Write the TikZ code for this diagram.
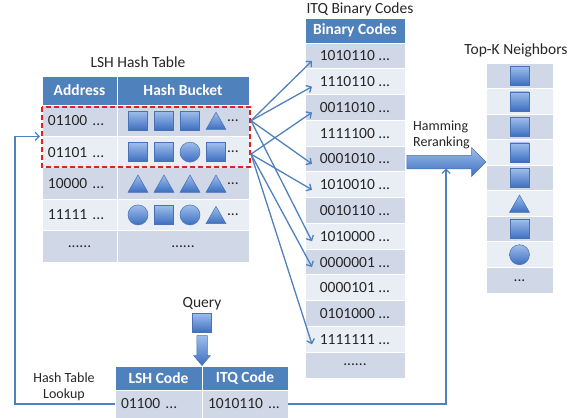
\documentclass[tikz,border=0pt]{standalone}
\usepackage{fontspec}
\setmainfont{Carlito}
\usetikzlibrary{positioning, shapes.geometric, shapes.arrows, arrows.meta}

\definecolor{hdrblue}{RGB}{79,129,189}
\definecolor{rowA}{RGB}{208,216,232}
\definecolor{rowB}{RGB}{233,237,244}
\definecolor{shpTop}{RGB}{158,190,235}
\definecolor{shpBot}{RGB}{60,110,192}
\definecolor{shpLine}{RGB}{72,112,178}
\definecolor{linkblue}{RGB}{79,129,189}
\definecolor{hitred}{RGB}{230,30,30}

\newcommand{\trail}{...}

\tikzset{
  cell/.style={rectangle, draw=white, line width=1pt, inner sep=0pt, outer sep=0pt,
    font=\fontsize{15.5}{17}\selectfont, text=black!85},
  hdr/.style={cell, fill=hdrblue, text=white, font=\fontsize{15.5}{17}\selectfont\bfseries},
  shp/.style={draw=shpLine, line width=0.5pt, top color=shpTop, bottom color=shpBot,
    inner sep=0pt, outer sep=0pt},
  sq/.style={shp, rectangle, minimum size=19pt},
  circ/.style={shp, circle, minimum size=20pt},
  tri/.style={shp, regular polygon, regular polygon sides=3, minimum size=23pt, yshift=-3pt},
  blockarrow/.style={shp, single arrow},
  title/.style={font=\fontsize{15.5}{17}\selectfont, text=black!85},
  note/.style={font=\fontsize{14}{16}\selectfont, text=black!85, inner sep=0pt},
  link/.style={draw=linkblue, line width=1.3pt, -{Straight Barb[length=4pt,width=8pt]}},
  hitbox/.style={draw=hitred, line width=2pt, dash pattern=on 5pt off 3pt}
}

\begin{document}
\begin{tikzpicture}[x=1pt, y=-1pt]
		
		\useasboundingbox (0,0) rectangle (582,418);
		
		% LSH hash table
		\node[title] (lshT) at (138,62) {LSH Hash Table};
		\node[hdr, minimum width=75pt, minimum height=29pt, anchor=north west] (addr0) at (42,76) {Address};
		\node[hdr, minimum width=132pt, minimum height=29pt, right=0pt of addr0] (buck0) {Hash Bucket};
		\foreach \code/\clr [count=\i, evaluate=\i as \j using int(\i-1)] in {01100/rowA, 01101/rowB, 10000/rowA, 11111/rowB} {
			\node[cell, fill=\clr, minimum height=31.4pt, inner xsep=6pt, text width=63pt, align=left, below=0pt of addr\j] (addr\i) {\code\ \trail};
			\node[cell, fill=\clr, minimum width=132pt, minimum height=31.4pt, right=0pt of addr\i] (buck\i) {};
		}
		\node[cell, fill=rowA, minimum width=75pt, minimum height=31.4pt, below=0pt of addr4] (addr5) {\trail\trail};
		\node[cell, fill=rowA, minimum width=132pt, minimum height=31.4pt, right=0pt of addr5] (buck5) {\trail\trail};
		
		\foreach \r/\shps in {1/{sq,sq,sq,tri}, 2/{sq,sq,circ,sq}, 3/{tri,tri,tri,tri}, 4/{circ,sq,circ,tri}} {
			\foreach \s [count=\k] in \shps
				\node[\s] (sh\r-\k) at ([xshift=26*\k-5]buck\r.west) {};
			\node[cell, draw=none, anchor=west] (dots\r) at ([xshift=110]buck\r.west) {\trail};
		}
		
		% ITQ binary codes
		\node[title] (itqT) at (360,9) {ITQ Binary Codes};
		\node[hdr, minimum width=100pt, minimum height=25pt, anchor=north west] (bin0) at (305,18) {Binary Codes};
		\foreach \code/\clr [count=\i, evaluate=\i as \j using int(\i-1)] in {1010110/rowA, 1110110/rowB, 0011010/rowA, 1111100/rowB, 0001010/rowA, 1010010/rowB, 0010110/rowA, 1010000/rowB, 0000001/rowA, 0000101/rowB, 0101000/rowA, 1111111/rowB}
			\node[cell, fill=\clr, minimum width=100pt, minimum height=25.77pt, below=0pt of bin\j] (bin\i) {\code\ \trail};
		\node[cell, fill=rowA, minimum width=100pt, minimum height=25.77pt, below=0pt of bin12] (bin13) {\trail\trail};
		
		% top-k neighbors
		\node[title] (topT) at (516,50) {Top-K Neighbors};
		\coordinate (top0) at (519.5,63);
		\foreach \s/\clr [count=\i, evaluate=\i as \j using int(\i-1)] in {sq/rowA, sq/rowB, sq/rowA, sq/rowB, sq/rowA, tri/rowB, sq/rowA, circ/rowB} {
			\node[cell, fill=\clr, minimum width=67pt, minimum height=25.56pt, below=0pt of top\j] (top\i) {};
			\node[\s] (topS\i) at (top\i) {};
		}
		\node[cell, fill=rowA, minimum width=67pt, minimum height=25.56pt, below=0pt of top8] (top9) {\trail};
		
		% query
		\node[hdr, minimum width=87pt, minimum height=24pt, anchor=north west] (qlshH) at (115,366) {LSH Code};
		\node[hdr, minimum width=86pt, minimum height=24pt, right=0pt of qlshH] (qitqH) {ITQ Code};
		\node[cell, fill=rowA, minimum height=28pt, inner xsep=6pt, text width=75pt, align=left, below=0pt of qlshH] (qlsh) {01100 \trail};
		\node[cell, fill=rowA, minimum height=28pt, inner xsep=6pt, text width=74pt, align=left, below=0pt of qitqH] (qitq) {1010110 \trail};
		\node[sq] (qsq) at (202,323) {};
		\node[title, above=0pt of qsq] (qlab) {Query};
		\node[blockarrow, shape border rotate=270, inner sep=5pt, minimum height=30pt, minimum width=16pt,
			single arrow head extend=3pt, single arrow tip angle=80, below=3pt of qsq] (qarr) {};
		
		% reranking arrow
		\node[blockarrow, inner sep=6.5pt, minimum height=79pt, minimum width=28pt, single arrow head extend=7.5pt, anchor=east] (ham) at (486,162) {};
		\node[note, align=left, anchor=south west] (hamT) at (413,149) {Hamming\\Reranking};
		\node[note, align=center] (lookT) at (64,387) {Hash Table\\Lookup};
		
		% matching buckets
		\draw[hitbox] ([yshift=-1.5pt]addr1.north west) rectangle ([xshift=1pt, yshift=1pt]buck2.south east);
		
		\coordinate (src1) at ([xshift=2pt]buck1.east);
		\coordinate (src2) at ([xshift=2pt, yshift=-2pt]buck2.east);
		\foreach \a/\b in {1/1, 1/2, 1/5, 1/8, 2/3, 2/6, 2/9, 2/12}
			\draw[link] (src\a) -- ([shift={(7,5)}]bin\b.west);
		
		\draw[link] (qlsh.west) -| ([xshift=-27pt]addr1.south west) -- ([xshift=-2pt]addr1.south west);
		\draw[link, shorten >=6.5pt] (qitq.east) -| ([xshift=3pt]ham.center);
		
\end{tikzpicture}
\end{document}
